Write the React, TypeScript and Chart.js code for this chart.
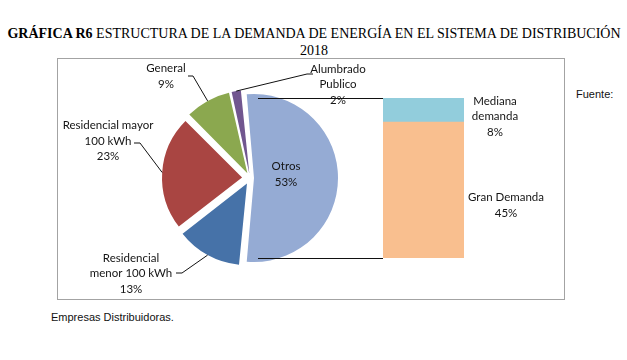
import React, { useEffect, useRef } from "react";
import { Chart, registerables } from "chart.js";
Chart.register(...registerables);

// ---- data ----
const pieCategories = ["Otros", "Residencial menor 100 kWh", "Residencial mayor 100 kWh", "General", "Alumbrado Publico"];
const pieLabelLines = [["Otros"], ["Residencial", "menor 100 kWh"], ["Residencial mayor", "100 kWh"], ["General"], ["Alumbrado", "Publico"]];
const pieValues = [53, 13, 23, 9, 2];
const pieColors = ["#95ABD4", "#4672A8", "#A94542", "#8BA84F", "#71568F"];

const barCategories = ["Gran Demanda", "Mediana demanda"];
const barLabelLines = [["Gran Demanda"], ["Mediana", "demanda"]];
const barValues = [45, 8];
const barColors = ["#F9BF8F", "#92CDDC"];

// ---- layout ----
const FONT = "Lato, 'Open Sans', sans-serif";
const LABEL_SIZE = 11.5;
const LINE_H = 15.5;
const BOX = { left: 58, top: 59, width: 506, height: 240 };
const PIE_CENTER = { x: 250, y: 178 };
const PIE_RADIUS = 80;
const PIE_SHIFT = 8; // how far each slice is pulled out
const BAR_CANVAS = { left: 383, top: 59, width: 181, height: 240 };
const BAR_AREA = { left: 383, top: 98, width: 81, height: 160 };
const pieLabelPos = [
  { x: 286, y: 174.5 },
  { x: 131, y: 273.5 },
  { x: 108, y: 141 },
  { x: 166, y: 76.5 },
  { x: 338, y: 84.5 },
];
const pieLeaders: (number[][] | null)[] = [
  null,
  [[176, 273], [182, 273]],
  [[134, 143], [140, 143]],
  [[188, 76], [193, 76]],
  [[313, 74], [307, 74]],
];
const barLabelPos = [
  { x: 506, y: 205.5 },
  { x: 495, y: 116.5 },
];

function drawBlock(ctx: CanvasRenderingContext2D, lines: string[], cx: number, cy: number) {
  ctx.save();
  ctx.font = `${LABEL_SIZE}px ${FONT}`;
  ctx.fillStyle = "#141414";
  ctx.textAlign = "center";
  ctx.textBaseline = "middle";
  const n = lines.length;
  lines.forEach((t, i) => {
    ctx.fillText(t, cx, cy + (i - (n - 1) / 2) * LINE_H);
  });
  ctx.restore();
}

// Chart.js translates an arc by offset/4 * (1 + fix), fix = 1 - sin(min(PI, circumference))
function offsetFor(v: number, total: number) {
  const c = (v / total) * Math.PI * 2;
  const fix = 1 - Math.sin(Math.min(Math.PI, c));
  return (4 * PIE_SHIFT) / (1 + fix);
}

export default function App() {
  const pieRef = useRef<HTMLCanvasElement>(null);
  const barRef = useRef<HTMLCanvasElement>(null);

  useEffect(() => {
    const total = pieValues.reduce((a, b) => a + b, 0);
    const ox = BOX.left;
    const oy = BOX.top;
    const piePlugin = {
      id: "pieAnnotations",
      afterDraw(chart: any) {
        const ctx: CanvasRenderingContext2D = chart.ctx;
        const meta = chart.getDatasetMeta(0);
        ctx.save();
        ctx.strokeStyle = "#111";
        ctx.lineWidth = 1;
        meta.data.forEach((arc: any, i: number) => {
          const p = arc.getProps(["x", "y", "startAngle", "endAngle", "outerRadius"], true);
          const mid = (p.startAngle + p.endAngle) / 2;
          const cx = p.x + Math.cos(mid) * PIE_SHIFT;
          const cy = p.y + Math.sin(mid) * PIE_SHIFT;
          if (i === 0) {
            const bx = BAR_AREA.left - ox;
            ctx.beginPath();
            ctx.moveTo(cx, Math.round(cy - p.outerRadius) + 0.5);
            ctx.lineTo(bx, Math.round(cy - p.outerRadius) + 0.5);
            ctx.moveTo(cx, Math.round(cy + p.outerRadius) + 0.5);
            ctx.lineTo(bx, Math.round(cy + p.outerRadius) + 0.5);
            ctx.stroke();
          }
          const leader = pieLeaders[i];
          if (leader) {
            const ex = cx + Math.cos(mid) * p.outerRadius;
            const ey = cy + Math.sin(mid) * p.outerRadius;
            ctx.beginPath();
            ctx.moveTo(leader[0][0] - ox, leader[0][1] - oy);
            ctx.lineTo(leader[1][0] - ox, leader[1][1] - oy);
            ctx.lineTo(ex, ey);
            ctx.stroke();
          }
          const lines = [...pieLabelLines[i], `${Math.round((pieValues[i] / total) * 100)}%`];
          drawBlock(ctx, lines, pieLabelPos[i].x - ox, pieLabelPos[i].y - oy);
        });
        ctx.restore();
      },
    };

    const pie = new Chart(pieRef.current!, {
      type: "pie",
      data: {
        labels: pieCategories,
        datasets: [
          {
            data: pieValues,
            backgroundColor: pieColors,
            borderWidth: 0,
            offset: pieValues.map((v) => offsetFor(v, total)),
            hoverOffset: 0,
          } as any,
        ],
      },
      options: {
        responsive: false,
        animation: false,
        events: [],
        radius: PIE_RADIUS,
        rotation: 90 - (pieValues[0] / total) * 180,
        layout: {
          padding: {
            left: 0,
            top: 0,
            right: BOX.width - 2 * (PIE_CENTER.x - BOX.left),
            bottom: BOX.height - 2 * (PIE_CENTER.y - BOX.top),
          },
        },
        plugins: { legend: { display: false }, tooltip: { enabled: false }, title: { display: false } },
      } as any,
      plugins: [piePlugin],
    });

    const barTotal = barValues.reduce((a, b) => a + b, 0);
    const bx0 = BAR_CANVAS.left;
    const by0 = BAR_CANVAS.top;
    const barPlugin = {
      id: "barAnnotations",
      afterDraw(chart: any) {
        const ctx: CanvasRenderingContext2D = chart.ctx;
        barValues.forEach((v, i) => {
          const lines = [...barLabelLines[i], `${Math.round((v / total) * 100)}%`];
          drawBlock(ctx, lines, barLabelPos[i].x - bx0, barLabelPos[i].y - by0);
        });
      },
    };
    const bar = new Chart(barRef.current!, {
      type: "bar",
      data: {
        labels: [""],
        datasets: barValues.map((v, i) => ({
          label: barCategories[i],
          data: [v],
          backgroundColor: barColors[i],
          borderWidth: 0,
          barPercentage: 1,
          categoryPercentage: 1,
        })),
      },
      options: {
        responsive: false,
        animation: false,
        events: [],
        layout: {
          padding: {
            left: BAR_AREA.left - BAR_CANVAS.left,
            top: BAR_AREA.top - BAR_CANVAS.top,
            right: BAR_CANVAS.width - BAR_AREA.width - (BAR_AREA.left - BAR_CANVAS.left),
            bottom: BAR_CANVAS.height - BAR_AREA.height - (BAR_AREA.top - BAR_CANVAS.top),
          },
        },
        plugins: { legend: { display: false }, tooltip: { enabled: false } },
        scales: {
          x: { display: false, stacked: true },
          y: { display: false, stacked: true, min: 0, max: barTotal },
        },
      } as any,
      plugins: [barPlugin],
    });

    return () => {
      pie.destroy();
      bar.destroy();
    };
  }, []);

  return (
    <div style={{ position: "absolute", left: 0, top: 0, width: 627, height: 360, background: "#fff", overflow: "hidden" }}>
      <div
        style={{
          position: "absolute",
          left: 0,
          top: 25,
          width: 628,
          textAlign: "center",
          fontFamily: "'Liberation Serif', 'Times New Roman', serif",
          fontSize: 14,
          lineHeight: "17px",
          color: "#000",
          whiteSpace: "nowrap",
        }}
      >
        <b>GRÁFICA R6</b> ESTRUCTURA DE LA DEMANDA DE ENERGÍA EN EL SISTEMA DE DISTRIBUCIÓN
        <br />
        2018
      </div>
      <div
        style={{
          position: "absolute",
          left: BOX.left - 1,
          top: BOX.top - 1,
          width: BOX.width,
          height: BOX.height,
          border: "1px solid #a3a3a3",
        }}
      />
      <canvas
        ref={pieRef}
        width={BOX.width}
        height={BOX.height}
        style={{ position: "absolute", left: BOX.left, top: BOX.top, width: BOX.width, height: BOX.height }}
      />
      <canvas
        ref={barRef}
        width={BAR_CANVAS.width}
        height={BAR_CANVAS.height}
        style={{ position: "absolute", left: BAR_CANVAS.left, top: BAR_CANVAS.top, width: BAR_CANVAS.width, height: BAR_CANVAS.height }}
      />
      <div
        style={{
          position: "absolute",
          left: 576,
          top: 88,
          fontFamily: "'Liberation Sans', Arial, sans-serif",
          fontSize: 11,
          lineHeight: "13px",
          color: "#111",
        }}
      >
        Fuente:
      </div>
      <div
        style={{
          position: "absolute",
          left: 51,
          top: 311,
          fontFamily: "'Liberation Sans', Arial, sans-serif",
          fontSize: 11,
          lineHeight: "13px",
          color: "#111",
        }}
      >
        Empresas Distribuidoras.
      </div>
    </div>
  );
}
